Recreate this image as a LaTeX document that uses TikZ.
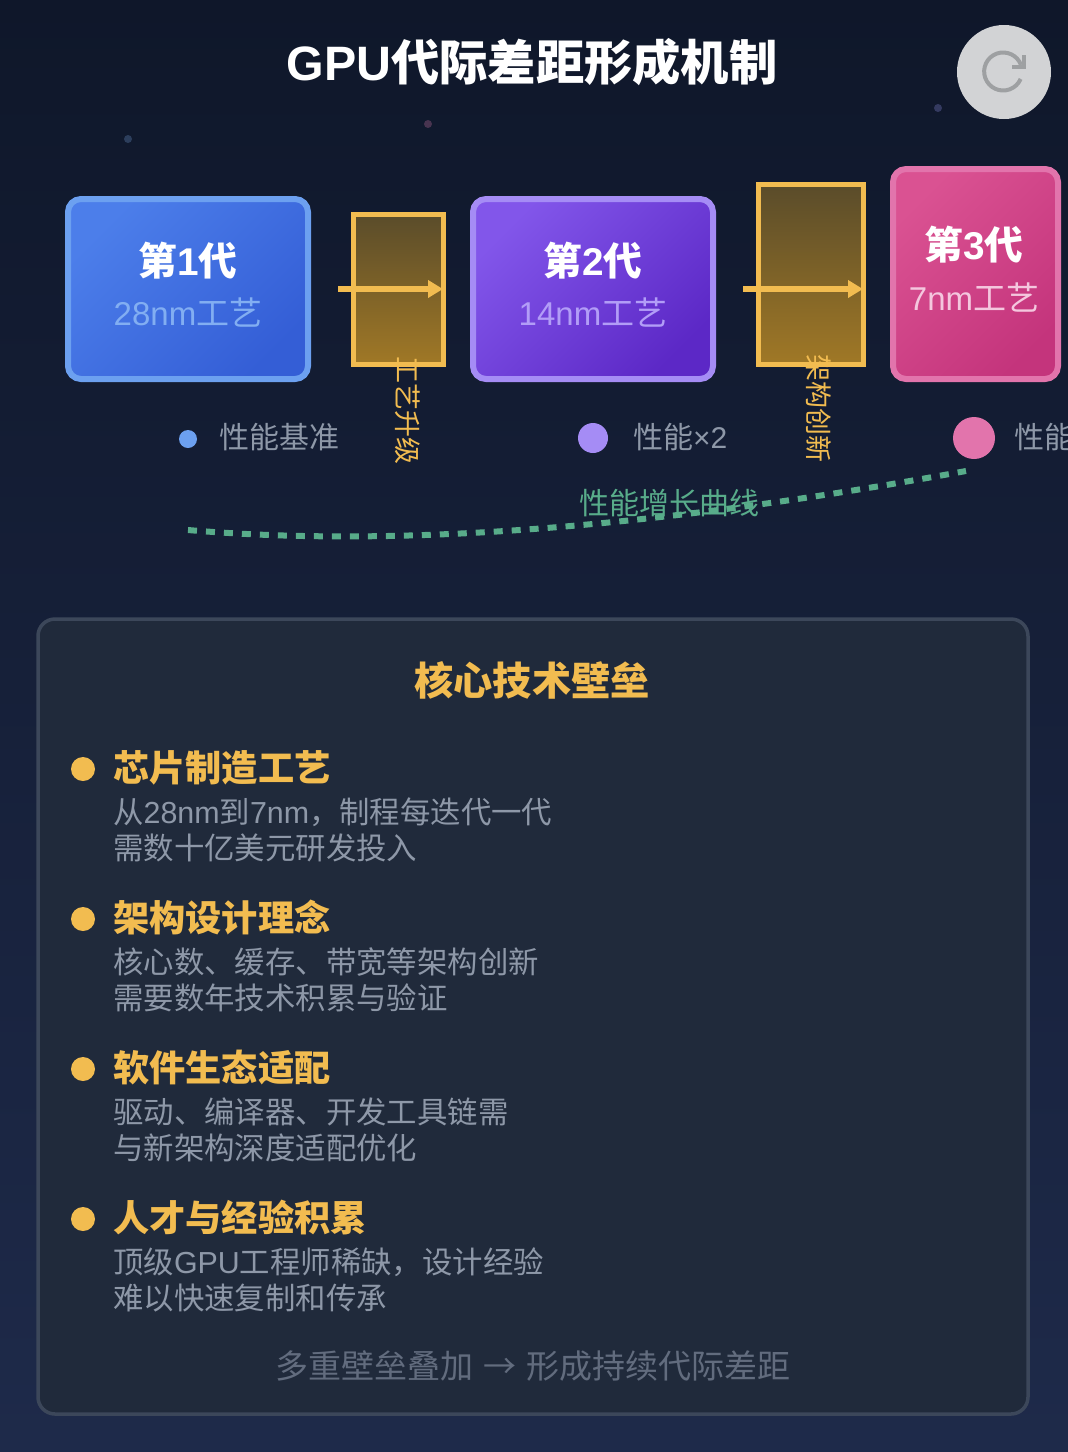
\documentclass[tikz,border=0pt]{standalone}
\usepackage{fontspec}
\setmainfont{Noto Sans CJK SC}
\newfontfamily\lat{Liberation Sans}
\usetikzlibrary{arrows.meta,positioning,calc}
\definecolor{bgtop}{RGB}{15,23,42}
\definecolor{bgbot}{RGB}{30,42,74}
\definecolor{accentgold}{RGB}{242,188,80}
\definecolor{panelfill}{RGB}{32,42,59}
\definecolor{panelline}{RGB}{60,71,90}
\definecolor{bodygray}{RGB}{142,152,168}
\definecolor{footgray}{RGB}{98,108,126}
\definecolor{curvegreen}{RGB}{88,172,138}
\definecolor{blueline}{RGB}{108,160,240}
\definecolor{blueA}{RGB}{76,126,234}
\definecolor{blueB}{RGB}{52,94,214}
\definecolor{violetline}{RGB}{165,140,245}
\definecolor{violetA}{RGB}{130,86,234}
\definecolor{violetB}{RGB}{92,40,198}
\definecolor{pinkline}{RGB}{226,116,172}
\definecolor{pinkA}{RGB}{218,82,146}
\definecolor{pinkB}{RGB}{196,52,124}
\definecolor{gapA}{RGB}{90,76,42}
\definecolor{gapB}{RGB}{160,120,38}
\definecolor{btngray}{RGB}{210,211,213}
\definecolor{btnicon}{RGB}{158,160,162}
\definecolor{starA}{RGB}{44,62,92}
\definecolor{starB}{RGB}{72,52,80}
\definecolor{starC}{RGB}{52,58,96}
\newcommand{\pxfont}[1]{\fontsize{#1}{#1}\selectfont}
\tikzset{
  genbox/.style 2 args={rounded corners=13pt, draw=#1, line width=6pt, inner sep=0pt,
    top color=#2A, bottom color=#2B, shading angle=45},
  gapbox/.style={draw=accentgold, line width=5pt, inner sep=0pt, shade,
    top color=gapA, bottom color=gapB},
  gentitle/.style={text=white, inner sep=0pt, font=\pxfont{38.7}\bfseries},
  gensub/.style={text=#1, inner sep=0pt, font=\pxfont{33}},
  gaplabel/.style={text=accentgold, inner sep=0pt, rotate=-90, font=\pxfont{27}},
  perfdot/.style={circle, fill=#1, inner sep=0pt},
  perflabel/.style={text=bodygray, inner sep=0pt, anchor=west, font=\pxfont{30}},
  star/.style={circle, fill=#1, inner sep=0pt, minimum size=8pt},
  flow/.style={-{Triangle[length=15pt,width=17pt]}, line width=6.5pt, draw=accentgold},
  itemhead/.style={text=accentgold, inner sep=0pt, anchor=west, font=\pxfont{36.2}\bfseries},
  itembody/.style={text=bodygray, inner sep=0pt, anchor=west, font=\pxfont{30.4}},
}
\begin{document}
\begin{tikzpicture}[x=1pt, y=-1pt]
  \useasboundingbox (0,0) rectangle (1068,1452);
  \clip (0,0) rectangle (1068,1452);
  \shade[top color=bgtop, bottom color=bgbot] (0,0) rectangle (1068,1452);

  %% ---- Title and button ----
  \node[text=white, inner sep=0pt, font=\pxfont{48.3}\bfseries] (title) at (532,62) {{\lat GPU}代际差距形成机制};
  \node[circle, fill=btngray, minimum size=94pt, inner sep=0pt] (reload) at (1004,72) {};
  \draw[line width=4pt, btnicon] ($(reload)+(17,-7)$) arc (-20:-337:19);
  \draw[line width=4pt, btnicon] ($(reload)+(20,-17)$) -- ($(reload)+(20,-5)$) -- ($(reload)+(8,-5)$);

  \node[star=starA] (star1) at (128,139) {};
  \node[star=starB] (star2) at (428,124) {};
  \node[star=starC] (star3) at (938,108) {};

  %% ---- Generation boxes ----
  \node[genbox={blueline}{blue}, minimum width=240pt, minimum height=180pt] (gen1) at (188,289) {};
  \node[gentitle] (gen1t) at (188,261) {第{\lat 1}代};
  \node[gensub=blueline!85!white] (gen1s) at (188,313) {{\lat 28nm}工艺};
  \node[genbox={violetline}{violet}, minimum width=240pt, minimum height=180pt] (gen2) at (593,289) {};
  \node[gentitle] (gen2t) at (593,261) {第{\lat 2}代};
  \node[gensub=violetline!85!white] (gen2s) at (593,313) {{\lat 14nm}工艺};
  \node[genbox={pinkline}{pink}, minimum width=165pt, minimum height=210pt] (gen3) at (975.5,274) {};
  \node[gentitle] (gen3t) at (974,245) {第{\lat 3}代};
  \node[gensub=pinkline!40!white] (gen3s) at (974,298) {{\lat 7nm}工艺};

  %% ---- Gaps between generations ----
  \node[gapbox, minimum width=90pt, minimum height=150pt] (gap1) at (398,289) {};
  \node[gapbox, minimum width=105pt, minimum height=180pt] (gap2) at (810.5,274) {};
  \coordinate (gap1a) at (338,289);
  \coordinate (gap1b) at (443,289);
  \coordinate (gap2a) at (743,289);
  \coordinate (gap2b) at (863,289);
  \draw[flow] (gap1a) -- (gap1b);
  \draw[flow] (gap2a) -- (gap2b);
  \node[gaplabel] (gap1l) at (408,410) {工艺升级};
  \node[gaplabel] (gap2l) at (819,408.5) {架构创新};

  %% ---- Performance row ----
  \node[perfdot=blueline, minimum size=18pt] (perf1) at (188,439) {};
  \node[perfdot=violetline, minimum size=30pt] (perf2) at (593,438) {};
  \node[perfdot=pinkline, minimum size=42pt] (perf3) at (974,438) {};
  \node[perflabel] (perf1l) at (219,437) {性能基准};
  \node[perflabel] (perf2l) at (633,437) {性能{\lat ×2}};
  \node[perflabel] (perf3l) at (1014,437) {性能};

  \coordinate (curvea) at (188,530);
  \coordinate (curveb) at (966,471);
  \draw[curvegreen, line width=6pt, dash pattern=on 9pt off 9pt]
    (curvea) .. controls (396,548) and (655,528) .. (curveb);
  \node[text=curvegreen, inner sep=0pt, font=\pxfont{30}] (curvel) at (669,503) {性能增长曲线};

  %% ---- Barrier panel ----
  \node[draw=panelline, fill=panelfill, line width=3.5pt, rounded corners=17pt,
        minimum width=990pt, minimum height=795pt, inner sep=0pt] (panel) at (533,1016.5) {};
  \node[text=accentgold, inner sep=0pt, font=\pxfont{39.2}\bfseries] (paneltitle) at (532,680) {核心技术壁垒};
  \foreach \py/\hd/\la/\lb [count=\n] in {
      768/芯片制造工艺/{从{\lat 28nm}到{\lat 7nm}，制程每迭代一代}/需数十亿美元研发投入,
      918/架构设计理念/核心数、缓存、带宽等架构创新/需要数年技术积累与验证,
      1068/软件生态适配/驱动、编译器、开发工具链需/与新架构深度适配优化,
      1218/人才与经验积累/{顶级{\lat GPU}工程师稀缺，设计经验}/难以快速复制和传承}{
    \node[circle, fill=accentgold, minimum size=24pt, inner sep=0pt] (dot\n) at (83,\py+1) {};
    \node[itemhead] (head\n) at (113,\py) {\hd};
    \node[itembody] (bodya\n) at (113,\py+44) {\la};
    \node[itembody] (bodyb\n) at (113,\py+80) {\lb};}
  \node[text=footgray, inner sep=0pt, font=\pxfont{33}] (foot) at (533,1366) {多重壁垒叠加\hspace{3pt} → \hspace{3pt}形成持续代际差距};
\end{tikzpicture}
\end{document}
